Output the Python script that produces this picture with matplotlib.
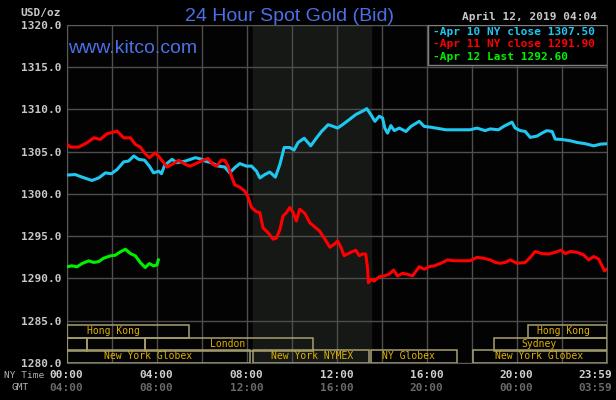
import matplotlib
matplotlib.use("Agg")
import matplotlib.pyplot as plt
from matplotlib.patches import Rectangle

# hours since 00:00 NY time, prices in USD/oz
apr10_hours = [0, 0.38, 0.68, 1.12, 1.42, 1.72, 1.98, 2.24, 2.53, 2.75, 2.98, 3.20, 3.46, 3.67,
               3.86, 4.09, 4.21, 4.35, 4.68, 4.90, 5.27, 5.72, 6.01, 6.13, 6.43, 6.72, 7.02, 7.24,
               7.46, 7.69, 7.98, 8.21, 8.43, 8.58, 8.80, 9.02, 9.27, 9.47, 9.66, 9.91, 10.10,
               10.28, 10.55, 10.84, 11.10, 11.32, 11.61, 11.84, 12.03, 12.25, 12.55, 12.84, 13.14,
               13.33, 13.51, 13.69, 13.88, 14.03, 14.13, 14.25, 14.40, 14.55, 14.77, 15.07, 15.29,
               15.66, 15.88, 16.18, 16.62, 16.84, 17.51, 17.92, 18.22, 18.59, 18.81, 19.18, 19.41,
               19.78, 19.92, 20.15, 20.37, 20.59, 20.89, 21.11, 21.33, 21.56, 21.70, 22.00, 22.37,
               22.67, 23.04, 23.41, 23.71, 24.0]
apr10_price = [1302.24, 1302.3, 1302.0, 1301.6, 1301.9, 1302.5, 1302.4, 1302.9, 1303.8, 1303.9,
               1304.5, 1304.1, 1304.0, 1303.3, 1302.5, 1302.7, 1302.4, 1303.4, 1304.1, 1303.7,
               1303.9, 1304.3, 1304.1, 1303.9, 1303.7, 1303.3, 1303.2, 1302.5, 1303.1, 1303.6,
               1303.3, 1303.3, 1302.7, 1301.9, 1302.3, 1302.6, 1302.0, 1303.5, 1305.5, 1305.5,
               1305.2, 1306.1, 1306.6, 1305.7, 1306.65, 1307.4, 1308.2, 1308.0, 1307.8, 1308.2,
               1308.8, 1309.4, 1309.8, 1310.1, 1309.4, 1308.6, 1309.2, 1309.0, 1307.8, 1307.2,
               1308.1, 1307.5, 1307.8, 1307.4, 1308.0, 1308.6, 1308.0, 1307.9, 1307.7, 1307.6,
               1307.6, 1307.6, 1307.8, 1307.5, 1307.7, 1307.6, 1308.0, 1308.5, 1307.8, 1307.5,
               1307.4, 1306.7, 1306.85, 1307.2, 1307.5, 1307.4, 1306.5, 1306.45, 1306.3, 1306.1,
               1305.95, 1305.7, 1305.9, 1305.95]

apr11_hours = [0, 0.16, 0.53, 0.90, 1.20, 1.49, 1.79, 2.24, 2.53, 2.83, 3.05, 3.27, 3.49, 3.67,
               3.94, 4.16, 4.46, 4.68, 4.98, 5.27, 5.49, 5.72, 6.06, 6.28, 6.50, 6.65, 6.87, 7.02,
               7.17, 7.32, 7.46, 7.69, 7.91, 8.06, 8.21, 8.43, 8.58, 8.72, 8.95, 9.17, 9.32, 9.47,
               9.61, 9.76, 9.91, 10.06, 10.20, 10.35, 10.58, 10.80, 11.02, 11.24, 11.47, 11.69,
               11.91, 12.03, 12.18, 12.32, 12.62, 12.84, 12.99, 13.14, 13.28, 13.36, 13.40, 13.51,
               13.66, 13.88, 14.10, 14.32, 14.52, 14.69, 14.92, 15.14, 15.36, 15.66, 15.88, 16.10,
               16.33, 16.62, 16.92, 17.21, 17.51, 17.92, 18.22, 18.52, 18.81, 19.04, 19.26, 19.48,
               19.70, 20.00, 20.37, 20.59, 20.81, 21.11, 21.41, 21.70, 21.96, 22.15, 22.37, 22.67,
               22.96, 23.19, 23.41, 23.63, 23.78, 23.89, 24.0]
apr11_price = [1305.94, 1305.55, 1305.55, 1306.06, 1306.65, 1306.46, 1307.13, 1307.44, 1306.65,
               1306.65, 1305.87, 1305.55, 1304.76, 1304.29, 1304.88, 1304.21, 1303.19, 1303.5,
               1303.98, 1303.5, 1303.3, 1303.58, 1304.0, 1304.2, 1303.5, 1303.3, 1304.0, 1304.0,
               1303.3, 1302.1, 1301.1, 1300.8, 1300.35, 1299.6, 1298.4, 1297.9, 1297.8, 1296.0,
               1295.4, 1294.65, 1294.8, 1295.8, 1297.4, 1297.8, 1298.4, 1297.8, 1296.8, 1298.2,
               1297.7, 1296.6, 1296.1, 1295.6, 1294.65, 1293.7, 1294.1, 1294.45, 1293.7, 1292.7,
               1293.1, 1293.35, 1292.7, 1292.9, 1292.9, 1291.3, 1289.5, 1289.9, 1289.7, 1290.2,
               1290.3, 1290.5, 1291.0, 1290.3, 1290.6, 1290.5, 1290.3, 1291.4, 1291.1, 1291.4,
               1291.5, 1291.8, 1292.2, 1292.1, 1292.1, 1292.1, 1292.5, 1292.4, 1292.2, 1291.9,
               1291.8, 1291.9, 1292.2, 1291.8, 1291.9, 1292.5, 1293.2, 1292.95, 1292.9, 1293.1,
               1293.35, 1292.95, 1293.2, 1293.1, 1292.8, 1292.2, 1292.6, 1292.3, 1291.5, 1290.9,
               1291.1]

apr12_hours = [0, 0.23, 0.46, 0.68, 0.98, 1.20, 1.42, 1.64, 1.94, 2.16, 2.38, 2.61, 2.83, 3.05,
               3.27, 3.49, 3.67, 3.86, 4.01, 4.07]
apr12_price = [1291.38, 1291.5, 1291.38, 1291.77, 1292.09, 1291.9, 1292.0, 1292.4, 1292.68,
               1292.76, 1293.15, 1293.46, 1292.95, 1292.68, 1291.89, 1291.3, 1291.77, 1291.5,
               1291.6, 1292.2]

legend_labels = ["-Apr 10 NY close 1307.50", "-Apr 11 NY close 1291.90", "-Apr 12 Last 1292.60"]
ny_ticks = ["00:00", "04:00", "08:00", "12:00", "16:00", "20:00", "23:59"]
gmt_ticks = ["04:00", "08:00", "12:00", "16:00", "20:00", "00:00", "03:59"]
tick_hours = [0, 4, 8, 12, 16, 20, 24]

# trading sessions: (start hour, end hour, row, label, label centre hour)
sessions = [
    (0, 5.44, 0, "Hong Kong", 2.09),
    (20.5, 24, 0, "Hong Kong", 22.05),
    (0, 0.92, 1, "", 0),
    (0.92, 3.47, 1, "", 0),
    (3.47, 10.93, 1, "London", 7.15),
    (19.0, 24, 1, "Sydney", 21.0),
    (0, 8.15, 2, "New York Globex", 3.62),
    (8.28, 13.44, 2, "New York NYMEX", 10.9),
    (13.5, 17.33, 2, "NY Globex", 15.2),
    (18.04, 24, 2, "New York Globex", 21.0),
]
row_bottoms = [1282.96, 1281.42, 1280.0]
row_height = 1.54

W, H = 616, 400
mono = "DejaVu Sans Mono"
cyan, red, green = "#1ec8f0", "#ff0000", "#00f000"
blue = "#4a70e8"


def px(x, y):
    return x / W, 1 - y / H


fig = plt.figure(figsize=(W / 100, H / 100), dpi=100, facecolor="black")
x0, y0 = px(66.7, 363)
ax = fig.add_axes([x0, y0, (607 - 66.7) / W, (363 - 25) / H])
ax.set_facecolor("#030303")
ax.set_xlim(0, 24)
ax.set_ylim(1280, 1320)

# NYMEX hours shading
ax.axvspan(8.28, 13.5, color="#151815", zorder=0)

ax.set_xticks(range(0, 25, 2))
ax.set_xticklabels([])
ax.set_yticks(range(1280, 1321, 5))
ax.set_yticklabels([f"{v:.1f}" for v in range(1280, 1321, 5)], family=mono,
                   fontweight="bold", fontsize=8, color="#c8c8c8")
ax.tick_params(length=0, pad=4)
ax.grid(True, color="#4e4e4e", linewidth=1, zorder=1)
ax.set_axisbelow(True)
for s in ax.spines.values():
    s.set_color("#5a5a5a")

ax.plot(apr10_hours, apr10_price, color=cyan, lw=2.2, zorder=3)
ax.plot(apr11_hours, apr11_price, color=red, lw=2.2, zorder=3)
ax.plot(apr12_hours, apr12_price, color=green, lw=2.2, zorder=3)

# session boxes along the bottom
for start, end, row, label, mid in sessions:
    ax.add_patch(Rectangle((start, row_bottoms[row]), end - start, row_height,
                           fill=False, ec="#a8a070", lw=1.1, zorder=4))
    if label:
        ax.text(mid, row_bottoms[row] + row_height / 2, label, family=mono, fontsize=7,
                color="#e0b000", ha="center", va="center", zorder=5)

# legend box
ax.add_patch(Rectangle((0.6687, 0.8817), 0.3313, 0.1183, transform=ax.transAxes,
                       fc="black", ec="#808080", lw=1, zorder=6))
for i, (lab, col) in enumerate(zip(legend_labels, [cyan, red, green])):
    fig.text(*px(433, [32.3, 44.3, 57.3][i]), lab, family=mono, fontsize=8, fontweight="bold",
             color=col, ha="left", va="center", zorder=7)

fig.text(*px(289.5, 21), "24 Hour Spot Gold (Bid)", family="Liberation Sans", fontsize=14,
         color=blue, ha="center", va="baseline")
fig.text(*px(68, 53), "www.kitco.com", family="Liberation Sans", fontsize=14,
         color=blue, ha="left", va="baseline")
fig.text(*px(20.5, 13), "USD/oz", family=mono, fontsize=8, fontweight="bold",
         color="#c8c8c8", ha="left", va="center")
fig.text(*px(597, 17), "April 12, 2019 04:04", family=mono, fontsize=8, fontweight="bold",
         color="#c8c8c8", ha="right", va="center")

# time axis labels
fig.text(*px(4, 375), "NY Time", family=mono, fontsize=6.8, color="#b0b0b0",
         ha="left", va="center")
fig.text(*px(11.5, 387.5), "GMT", family=mono, fontsize=6.8, color="#b0b0b0",
         ha="left", va="center")
for h, ny, gmt in zip(tick_hours, ny_ticks, gmt_ticks):
    xp = 66.7 + 22.5 * h
    ha = "center"
    if h == 24:
        xp, ha = 612, "right"
    fig.text(*px(xp, 374.5), ny, family=mono, fontsize=8, fontweight="bold",
             color="#d0d0d0", ha=ha, va="center")
    fig.text(*px(xp, 388), gmt, family=mono, fontsize=8, fontweight="bold",
             color="#6a6a6a", ha=ha, va="center")

fig.savefig("out.png", dpi=100, facecolor="black")
